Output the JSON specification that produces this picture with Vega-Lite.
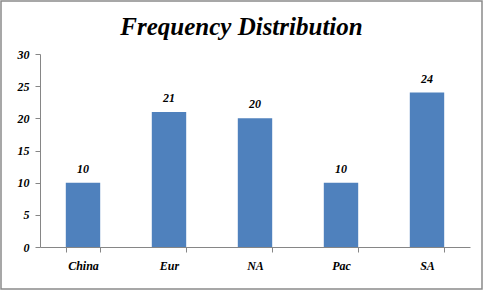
{
  "$schema": "https://vega.github.io/schema/vega-lite/v6.json",
  "width": 481,
  "height": 288,
  "padding": {"left": 1, "top": 1, "right": 1, "bottom": 2},
  "autosize": {"type": "none"},
  "background": "white",
  "config": {
    "view": {"stroke": "#8a8a8a", "strokeWidth": 1.5},
    "font": "Liberation Serif"
  },
  "title": {
    "text": "Frequency Distribution",
    "font": "Liberation Serif",
    "fontSize": 25,
    "fontWeight": "bold",
    "fontStyle": "italic",
    "color": "#000000",
    "anchor": "middle",
    "baseline": "alphabetic",
    "offset": -31,
    "dy": 28
  },
  "data": {
    "values": [
      {"region": "China", "count": 10},
      {"region": "Eur", "count": 21},
      {"region": "NA", "count": 20},
      {"region": "Pac", "count": 10},
      {"region": "SA", "count": 24}
    ]
  },
  "encoding": {
    "x": {
      "field": "region",
      "type": "nominal",
      "sort": null,
      "scale": {"range": [39, 469], "paddingInner": 0.6, "paddingOuter": 0.3},
      "axis": {
        "title": null,
        "labelAngle": 0,
        "offset": -42,
        "tickBand": "extent",
        "domainColor": "#868686",
        "tickColor": "#868686",
        "tickSize": 5,
        "labelFont": "Liberation Serif",
        "labelFontSize": 12,
        "labelFontWeight": "bold",
        "labelFontStyle": "italic",
        "labelColor": "#000000",
        "labelPadding": 8
      }
    },
    "y": {
      "field": "count",
      "type": "quantitative",
      "scale": {"domain": [0, 30], "range": [246, 53], "nice": false},
      "axis": {
        "title": null,
        "values": [0, 5, 10, 15, 20, 25, 30],
        "grid": false,
        "offset": -39,
        "domainColor": "#868686",
        "tickColor": "#868686",
        "tickSize": 5,
        "labelFont": "Liberation Serif",
        "labelFontSize": 12,
        "labelFontWeight": "bold",
        "labelFontStyle": "italic",
        "labelColor": "#000000",
        "labelPadding": 6
      }
    }
  },
  "layer": [
    {"mark": {"type": "bar", "color": "#4F81BD"}},
    {
      "mark": {
        "type": "text",
        "dy": -14,
        "font": "Liberation Serif",
        "fontSize": 12,
        "fontWeight": "bold",
        "fontStyle": "italic",
        "color": "#000000"
      },
      "encoding": {"text": {"field": "count", "type": "quantitative"}}
    }
  ]
}
